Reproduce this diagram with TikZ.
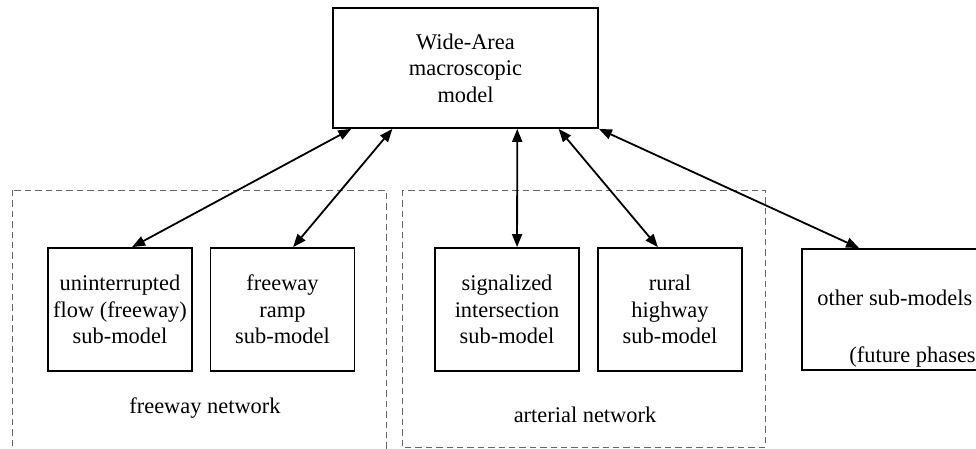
\documentclass[tikz,border=0pt]{standalone}
\usepackage{fontspec}
\setmainfont{Liberation Serif}
\usetikzlibrary{arrows.meta,calc}

\begin{document}
\begin{tikzpicture}[x=0.5pt,y=-0.5pt,
    every node/.style={font=\fontsize{11.2}{13.3}\selectfont},
    model/.style={draw,line width=0.9pt,align=center,inner sep=0pt,
      minimum width=72pt,minimum height=61.5pt},
    link/.style={line width=0.9pt,
      {Triangle[length=6.5pt,width=5pt]}-{Triangle[length=6.5pt,width=5pt]}},
    cluster/.style={draw=black!60,line width=0.45pt,dash pattern=on 3.2pt off 2pt}]
    \useasboundingbox (0,0) rectangle (976,449);
    \clip (0,0) rectangle (976,449);
    % clusters
    \draw[cluster] (12,190) rectangle (386,460);
    \draw[cluster] (402,190) rectangle (765,447);
    \node (fwnet) at (205,408) {freeway network};
    \node (artnet) at (585,415) {arterial network};
    % models
    \node[model,minimum width=132.5pt,minimum height=60pt] (wam) at (465.5,68)
      {Wide-Area\\macroscopic\\model};
    \node[model] (uf)   at (120,309.5)   {uninterrupted\\flow (freeway)\\sub-model};
    \node[model] (ramp) at (282.5,309.5) {freeway\\ramp\\sub-model};
    \node[model] (sig)  at (507,309.5)   {signalized\\intersection\\sub-model};
    \node[model] (rur)  at (670,309.5)   {rural\\highway\\sub-model};
    \node[model,minimum width=101.5pt,minimum height=60.5pt] (other) at (903.5,309.5) {};
    \node[anchor=west,inner sep=0pt] (othertxt) at (817,298) {other sub-models};
    \node[anchor=west,inner sep=0pt] (future) at (849,357) {(future phases)};
    % links
    \draw[link] ($(wam.south west)!0.072!(wam.south east)$) -- ($(uf.north west)!0.583!(uf.north east)$);
    \draw[link] ($(wam.south west)!0.226!(wam.south east)$) -- ($(ramp.north west)!0.573!(ramp.north east)$);
    \draw[link] ($(wam.south west)!0.694!(wam.south east)$) -- ($(sig.north west)!0.569!(sig.north east)$);
    \draw[link] ($(wam.south west)!0.849!(wam.south east)$) -- ($(rur.north west)!0.417!(rur.north east)$);
    \draw[link] (wam.south east) -- ($(other.north west)+(58,0)$);
\end{tikzpicture}
\end{document}
